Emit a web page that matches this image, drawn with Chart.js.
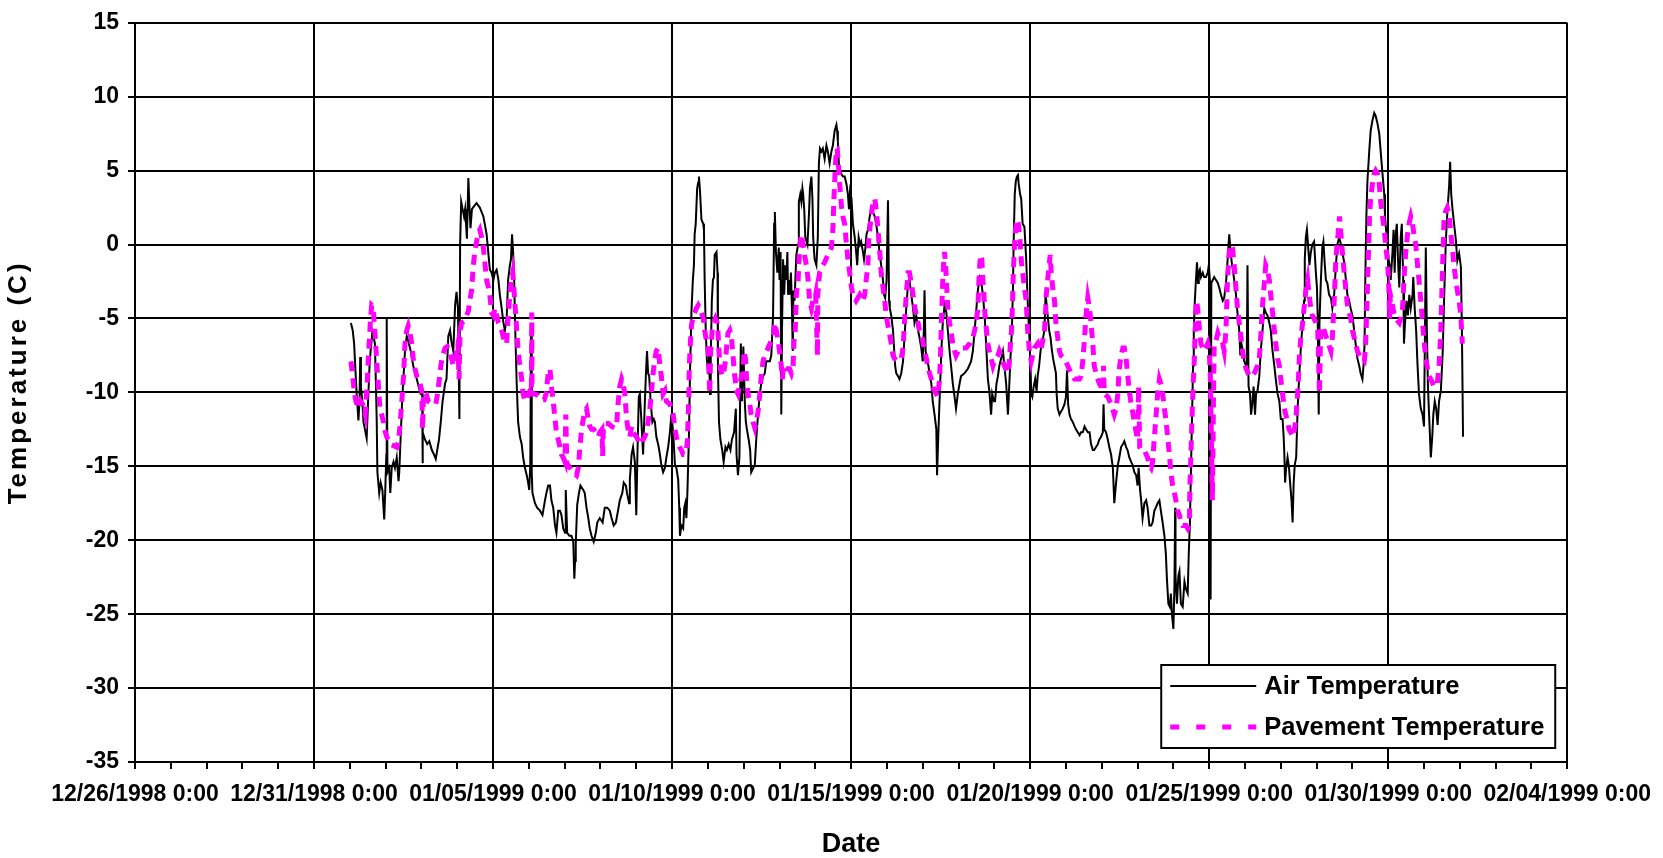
<!DOCTYPE html>
<html>
<head>
<meta charset="utf-8">
<script src="https://cdn.jsdelivr.net/npm/chart.js@4.4.0/dist/chart.umd.min.js"></script>
<style>
html,body{margin:0;padding:0;background:#fff;}
canvas{display:block;}
</style>
</head>
<body>
<canvas id="c" width="1663" height="858"></canvas>
<script>
// X axis: days since 12/26/1998 0:00 (one label every 5 days)
const xTickLabels = ["12/26/1998 0:00","12/31/1998 0:00","01/05/1999 0:00","01/10/1999 0:00","01/15/1999 0:00","01/20/1999 0:00","01/25/1999 0:00","01/30/1999 0:00","02/04/1999 0:00"];
const seriesNames = ["Air Temperature","Pavement Temperature"];
const axisTitles = {x:"Date", y:"Temperature (C)"};

// Air temperature: time (days since 12/26/1998) and value (C)
const airDays = [6.03,6.08,6.12,6.15,6.19,6.24,6.27,6.29,6.31,6.35,6.38,6.43,6.47,6.51,6.55,6.58,6.63,6.66,6.70,6.73,6.75,6.77,6.82,6.86,6.91,6.96,6.99,7.02,7.03,7.05,7.10,7.13,7.17,7.22,7.26,7.31,7.36,7.38,7.42,7.46,7.50,7.54,7.59,7.63,7.70,7.77,7.85,7.92,7.98,8.02,8.03,8.04,8.10,8.16,8.22,8.29,8.35,8.40,8.44,8.49,8.54,8.59,8.66,8.70,8.75,8.80,8.84,8.89,8.94,8.98,9.02,9.06,9.08,9.11,9.15,9.19,9.22,9.24,9.27,9.31,9.34,9.37,9.41,9.47,9.54,9.63,9.73,9.82,9.91,
9.96,10.01,10.05,10.10,10.15,10.19,10.24,10.29,10.33,10.38,10.42,10.47,10.50,10.53,10.56,10.59,10.62,10.66,10.70,10.75,10.80,10.84,10.89,10.94,10.98,11.01,11.04,11.06,11.08,11.10,11.17,11.23,11.31,11.38,11.45,11.49,11.54,11.59,11.63,11.68,11.73,11.77,11.82,11.87,11.91,11.96,12.01,12.03,12.07,12.13,12.19,12.24,12.27,12.29,12.31,12.35,12.40,12.44,12.52,12.56,12.61,12.66,12.70,12.75,12.81,12.87,12.91,12.98,13.06,13.12,13.19,13.26,13.31,13.37,13.43,13.49,13.54,13.61,13.65,13.71,13.74,13.80,13.82,13.87,13.91,13.96,14.00,14.03,14.07,14.10,14.14,14.19,14.24,14.27,14.30,14.33,14.36,14.40,14.45,14.49,14.52,14.56,14.61,14.66,14.70,14.75,
14.80,14.84,14.89,14.94,14.98,15.03,15.08,15.12,15.17,15.20,15.22,15.26,15.31,15.34,15.37,15.40,15.43,15.47,15.50,15.54,15.58,15.61,15.63,15.66,15.70,15.73,15.75,15.78,15.82,15.87,15.89,15.91,15.94,15.97,16.01,16.03,16.06,16.08,16.11,16.14,16.17,16.19,16.24,16.27,16.28,16.31,16.35,16.40,16.44,16.49,16.53,16.58,16.63,16.67,16.73,16.78,16.80,16.84,16.88,16.92,16.95,16.99,17.03,17.06,17.09,17.14,17.18,17.21,17.27,17.31,17.35,17.40,17.45,17.49,17.54,17.59,17.63,17.73,17.77,17.82,17.85,17.87,17.90,17.94,17.98,18.00,18.03,18.05,18.07,18.10,18.13,18.16,18.19,18.22,18.24,18.27,18.29,18.32,18.35,18.37,18.39,18.42,18.47,18.52,18.54,18.58,18.61,18.64,18.66,18.69,18.72,18.78,18.82,18.85,18.89,18.92,18.94,18.98,19.03,19.07,19.10,19.13,19.17,19.21,19.26,19.31,19.35,19.40,19.45,19.49,19.54,19.59,19.61,19.63,19.66,19.72,19.77,
19.82,19.87,19.91,19.94,19.97,20.01,20.05,20.10,20.14,20.17,20.21,20.25,20.28,20.33,20.36,20.40,20.43,20.47,20.52,20.56,20.61,20.66,20.70,20.75,20.80,20.84,20.89,20.92,20.95,20.99,21.03,21.06,21.08,21.12,21.17,21.20,21.23,21.26,21.31,21.35,21.40,21.45,21.49,21.54,21.59,21.63,21.68,21.73,21.77,21.82,21.87,21.91,21.96,22.00,22.03,22.05,22.08,22.12,22.16,22.20,22.24,22.28,22.33,22.38,22.40,22.44,22.48,22.52,22.56,22.61,22.66,22.70,22.75,22.80,22.84,22.89,22.93,22.98,23.03,23.07,23.17,23.26,23.35,23.40,23.45,23.49,23.54,23.59,23.63,23.68,23.73,23.77,23.82,23.86,23.91,23.94,23.99,24.02,24.06,24.10,24.14,24.19,24.24,24.28,24.33,24.38,24.41,24.45,24.49,24.52,24.54,24.57,24.60,24.63,24.66,24.68,24.72,24.75,24.79,
24.84,24.89,24.93,24.98,25.01,25.03,25.06,25.10,25.14,25.18,25.21,25.25,25.29,25.32,25.36,25.40,25.43,25.45,25.49,25.53,25.57,25.60,25.64,25.68,25.72,25.74,25.77,25.82,25.86,25.91,25.96,26.00,26.03,26.06,26.10,26.14,26.19,26.24,26.28,26.33,26.38,26.42,26.47,26.52,26.56,26.61,26.66,26.70,26.75,26.79,26.84,26.89,26.93,26.98,27.03,27.05,27.07,27.12,27.17,27.21,27.26,27.31,27.35,27.40,27.45,27.49,27.54,27.59,27.63,27.68,27.72,27.77,27.82,27.86,27.91,27.96,28.00,28.03,28.07,28.10,28.14,28.19,28.24,28.28,28.33,28.38,28.42,28.47,28.51,28.56,28.61,28.65,28.70,28.75,28.79,28.82,28.86,28.90,28.93,28.96,29.00,29.03,29.05,29.06,29.10,29.14,29.17,29.21,29.26,29.31,29.35,29.40,29.43,29.46,29.49,29.52,29.55,29.57,29.60,29.63,29.66,29.69,29.71,29.74,29.77,29.82,
29.86,29.91,29.96,29.99,30.02,30.04,30.06,30.10,30.14,30.19,30.24,30.28,30.33,30.38,30.42,30.47,30.51,30.56,30.59,30.63,30.66,30.70,30.75,30.79,30.84,30.87,30.90,30.94,30.98,31.03,31.05,31.07,31.10,31.14,31.17,31.21,31.24,31.28,31.31,31.35,31.40,31.44,31.49,31.54,31.58,31.63,31.68,31.72,31.77,31.82,31.86,31.91,31.96,32.00,32.05,32.08,32.10,32.12,32.15,32.19,32.23,32.26,32.30,32.33,32.36,32.39,32.43,32.47,32.51,32.56,32.61,32.65,32.67,32.70,32.73,32.76,32.80,32.84,32.88,32.93,32.98,33.01,33.03,33.06,33.08,33.12,33.16,33.19,33.23,33.26,33.30,33.35,33.40,33.44,33.49,33.54,33.58,33.63,33.68,33.72,33.77,33.82,33.86,33.91,33.95,34.00,34.05,34.09,34.14,34.19,34.23,34.28,34.31,34.34,34.36,34.39,34.42,34.47,34.51,34.56,34.61,34.65,34.70,34.75,34.79,34.84,34.89,34.91,34.94,34.98,35.01,35.04,35.07,35.12,35.15,35.18,35.21,35.24,35.28,35.31,35.35,35.38,35.42,35.44,35.47,35.51,35.55,35.59,35.63,35.68,35.70,35.74,35.78,35.82,35.86,35.91,35.96,36.00,36.05,36.08,36.11,36.15,36.19,36.23,36.26,36.30,36.34,36.38,36.42,36.47,36.52,36.56,36.61,36.66,36.70,36.73,36.76,36.80,36.84,36.89,36.93,36.98,37.03,37.06,37.09];
const airTemps = [-5.3,-5.8,-6.7,-8.2,-10.1,-11.9,-10.6,-7.6,-9.6,-10.6,-12.0,-12.6,-13.1,-10.6,-8.2,-7.2,-5.9,-6.2,-6.7,-9.6,-11.8,-15.4,-16.8,-16.1,-16.6,-18.6,-16.6,-14.2,-5.0,-15.4,-15.1,-16.8,-15.1,-14.7,-15.1,-14.4,-16.0,-15.4,-13.0,-10.6,-8.9,-7.2,-6.2,-6.5,-7.2,-8.2,-8.9,-9.6,-10.1,-10.1,-14.8,-12.7,-13.2,-13.5,-13.3,-13.9,-14.2,-14.5,-13.9,-13.2,-12.0,-10.6,-9.4,-9.1,-6.2,-5.8,-6.6,-7.2,-4.1,-3.2,-4.3,-11.8,0.0,2.9,2.4,1.9,2.4,1.6,0.4,4.5,2.6,1.1,2.4,2.6,2.8,2.5,1.9,0.7,-1.7,
-1.9,-2.4,-1.9,-1.7,-2.4,-3.4,-4.3,-5.3,-5.8,-5.0,-2.4,-1.4,-1.0,0.7,-0.5,-2.4,-5.8,-9.4,-12.0,-13.0,-13.5,-14.4,-15.1,-15.6,-16.1,-16.6,-14.9,-5.8,-15.4,-16.8,-17.5,-17.8,-18.0,-18.3,-17.3,-16.8,-16.3,-16.3,-17.3,-17.8,-19.0,-19.5,-18.0,-18.0,-18.3,-19.2,-19.5,-16.6,-19.5,-19.7,-19.7,-20.1,-22.6,-21.4,-20.2,-17.6,-16.8,-16.3,-16.6,-16.8,-17.8,-18.5,-19.2,-19.7,-20.1,-19.5,-18.8,-18.5,-18.8,-17.8,-17.8,-18.0,-18.5,-19.0,-18.8,-18.0,-17.3,-16.8,-16.1,-16.3,-16.8,-17.5,-15.9,-14.2,-13.7,-14.7,-18.3,-14.4,-10.3,-10.1,-11.8,-14.2,-10.6,-8.7,-7.2,-8.7,-8.9,-10.6,-12.0,-11.8,-12.0,-13.0,-13.5,-14.2,-14.9,-15.4,
-15.1,-14.4,-13.7,-12.7,-11.5,-12.7,-14.9,-15.1,-15.9,-17.8,-19.7,-19.0,-19.2,-17.8,-17.5,-18.5,-16.6,-13.0,-8.7,-4.6,-2.4,-1.4,0.7,1.4,3.8,4.2,4.6,3.6,1.7,1.4,1.0,-2.4,-5.8,-7.7,-8.7,-7.5,-10.1,-7.7,-3.8,-2.4,-2.2,-0.7,-0.5,-1.9,-8.2,-12.0,-13.2,-13.9,-14.7,-13.7,-13.9,-13.5,-13.9,-13.2,-12.7,-11.1,-14.2,-15.6,-14.4,-6.7,-10.6,-6.9,-10.6,-12.0,-12.5,-13.2,-13.9,-15.4,-15.1,-14.9,-13.2,-11.5,-10.1,-9.4,-8.9,-8.7,-7.9,-7.9,-7.5,-4.8,1.4,2.2,-0.5,-1.9,-0.2,-2.4,-0.5,-11.5,-5.8,-1.0,-3.4,-1.4,-2.4,-0.5,-3.4,-2.4,-3.4,-1.9,-4.6,-7.2,-3.1,-3.8,-0.7,0.0,2.9,3.4,2.9,3.8,3.4,2.4,0.5,0.0,1.9,3.8,4.6,3.1,0.5,-1.0,-1.4,0.5,5.5,6.5,6.3,6.5,5.8,6.7,6.3,5.5,6.3,6.7,7.7,8.1,7.7,7.0,5.3,4.8,4.6,
4.6,4.1,3.4,2.4,3.6,3.1,1.4,0.5,-0.5,-1.4,0.5,0.0,0.2,-0.5,-1.0,-0.2,0.7,1.0,1.9,2.4,2.2,1.9,1.4,0.5,-0.7,-1.4,-2.4,-3.4,-3.6,-2.4,3.0,-3.8,-4.3,-4.8,-5.8,-7.0,-8.2,-8.7,-8.9,-9.1,-8.7,-7.9,-6.3,-4.3,-2.6,-2.4,-3.4,-4.3,-5.3,-4.8,-5.8,-6.3,-7.0,-7.9,-5.8,-3.1,-7.2,-7.9,-8.2,-8.9,-9.4,-10.6,-11.5,-12.5,-15.6,-12.5,-9.9,-7.2,-5.3,-4.1,-4.6,-5.8,-7.2,-8.4,-9.4,-10.3,-11.1,-10.1,-9.4,-8.9,-8.7,-8.4,-7.9,-7.2,-5.8,-4.6,-3.1,-2.2,-2.4,-3.4,-4.8,-6.7,-9.1,-9.9,-11.5,-10.1,-10.6,-10.6,-9.4,-8.9,-8.2,-7.7,-7.2,-8.2,-9.4,-11.5,-9.9,-7.7,-5.8,-2.9,0.2,3.4,4.3,4.6,4.7,4.1,3.4,3.1,1.4,
1.2,-1.0,-3.8,-6.3,-8.2,-10.1,-10.3,-9.6,-9.1,-9.9,-8.9,-8.2,-7.2,-6.7,-6.3,-5.8,-3.4,-3.8,-4.8,-5.8,-6.3,-7.0,-7.7,-8.2,-8.7,-10.1,-11.1,-11.5,-11.3,-11.1,-10.8,-10.3,-8.5,-10.8,-11.5,-11.8,-12.0,-12.3,-12.5,-12.7,-12.9,-12.7,-12.7,-12.3,-12.5,-12.7,-12.7,-13.5,-13.9,-13.9,-13.7,-13.5,-13.2,-13.0,-12.7,-10.8,-12.5,-12.7,-13.2,-13.7,-14.2,-15.1,-17.5,-16.1,-14.9,-14.4,-13.7,-13.5,-13.3,-13.7,-13.9,-14.4,-14.7,-14.9,-15.4,-15.6,-16.3,-15.1,-16.6,-17.3,-18.5,-17.5,-17.3,-17.8,-19.0,-19.0,-18.8,-18.0,-17.8,-17.5,-17.3,-18.0,-18.8,-19.7,-20.9,-22.6,-24.3,-24.5,-23.6,-25.0,-26.0,-23.1,-17.8,-22.4,-24.3,-22.4,-22.1,-24.3,-24.5,-22.8,-23.3,-23.6,-20.9,-19.0,-15.4,-11.8,-8.2,-5.8,-3.8,-2.4,-1.2,-2.6,-1.9,-1.7,-2.2,-1.9,
-2.2,-2.2,-1.9,-1.4,-2.4,-24.0,-2.6,-2.4,-2.2,-2.4,-2.6,-2.9,-3.4,-3.8,-3.6,-2.6,-1.2,0.7,-0.2,-1.2,-1.7,-2.4,-3.4,-4.6,-5.8,-7.5,-6.7,-7.2,-7.9,-8.2,-7.7,-1.4,-9.6,-10.1,-11.5,-10.6,-9.6,-11.5,-10.1,-9.9,-8.9,-7.2,-5.8,-4.3,-4.6,-4.8,-5.3,-5.8,-7.2,-8.2,-9.1,-10.1,-10.6,-11.8,-11.8,-13.0,-14.2,-16.1,-15.1,-14.4,-15.1,-16.1,-17.3,-18.8,-16.1,-14.9,-14.4,-11.1,-9.1,-7.0,-5.3,-3.8,-1.0,0.5,1.0,0.0,-1.4,-0.5,0.0,0.2,-1.9,-2.9,-4.8,-11.5,-5.3,-2.4,-0.2,0.2,-1.4,-2.4,-2.6,-3.4,-3.6,-4.3,-3.4,-1.4,0.0,0.5,0.0,-0.5,-1.2,-2.4,-3.4,-3.8,-4.3,-4.8,-5.8,-6.7,-7.7,-8.2,-8.7,-9.1,-8.2,-6.7,-2.4,1.9,4.3,6.3,7.7,8.4,8.9,8.7,8.2,7.5,6.3,4.8,3.4,1.9,1.0,0.2,-1.0,-1.4,-2.4,-0.5,1.0,-1.9,0.7,1.4,-1.4,-2.9,0.5,1.4,-2.4,-6.7,-5.3,-3.8,-4.8,-3.4,-4.3,-3.4,-2.2,-4.3,-5.8,-8.2,-10.1,-11.1,-11.5,-12.3,-0.2,-5.8,-9.6,-12.0,-14.4,-13.0,-11.5,-10.6,-11.1,-12.2,-10.6,-9.9,-7.4,-3.8,0.3,2.5,3.9,5.6,3.4,2.3,1.4,0.3,-1.1,-0.6,-1.5,-6.1,-13.0];

// Pavement temperature: time (days since 12/26/1998) and value (C)
const pavDays = [6.03,6.08,6.13,6.17,6.24,6.30,6.36,6.43,6.45,6.49,6.52,6.55,6.57,6.61,6.65,6.68,6.71,6.75,6.80,6.84,6.89,6.94,6.98,7.03,7.08,7.12,7.22,7.31,7.36,7.40,7.45,7.50,7.54,7.59,7.63,7.68,7.73,7.77,7.82,7.87,7.96,8.01,8.03,8.06,8.13,8.19,8.26,8.33,8.40,8.45,8.50,8.54,8.59,8.66,8.72,8.80,8.84,8.89,8.94,8.98,9.02,9.05,9.08,9.12,9.19,9.26,9.31,9.35,9.40,9.45,9.49,9.54,9.59,9.63,9.68,9.73,9.77,9.82,9.87,9.91,
9.96,10.01,10.05,10.10,10.15,10.19,10.24,10.29,10.33,10.38,10.41,10.44,10.47,10.51,10.55,10.58,10.62,10.66,10.70,10.75,10.80,10.84,10.89,10.94,10.98,11.03,11.07,11.08,11.09,11.17,11.26,11.35,11.43,11.48,11.54,11.59,11.63,11.68,11.73,11.77,11.82,11.87,11.91,11.96,12.01,12.03,12.06,12.15,12.24,12.33,12.38,12.42,12.47,12.52,12.56,12.61,12.66,12.70,12.75,12.81,12.87,12.94,12.98,13.04,13.06,13.08,13.12,13.22,13.31,13.40,13.45,13.49,13.54,13.59,13.63,13.68,13.71,13.73,13.77,13.82,13.87,13.91,14.00,14.05,14.10,14.14,14.19,14.24,14.28,14.33,14.38,14.42,14.47,14.52,14.56,14.61,14.66,14.70,14.75,
14.80,14.84,14.94,14.98,15.03,15.08,15.12,15.17,15.21,15.26,15.31,15.35,15.40,15.43,15.45,15.47,15.48,15.51,15.54,15.59,15.63,15.68,15.73,15.77,15.82,15.87,15.91,15.96,16.01,16.03,16.05,16.08,16.12,16.16,16.21,16.26,16.28,16.31,16.35,16.40,16.44,16.49,16.53,16.56,16.61,16.66,16.70,16.75,16.80,16.84,16.89,16.94,16.98,17.01,17.05,17.08,17.12,17.17,17.21,17.26,17.31,17.35,17.40,17.45,17.49,17.54,17.59,17.68,17.77,17.82,17.87,17.91,17.96,18.00,18.05,18.08,18.11,18.19,18.28,18.33,18.38,18.40,18.44,18.47,18.52,18.56,18.61,18.66,18.70,18.75,18.80,18.84,18.89,18.93,18.98,19.01,19.04,19.06,19.07,19.12,19.17,19.21,19.26,19.35,19.45,19.49,19.52,19.56,19.59,19.61,19.65,19.68,19.73,19.77,
19.82,19.87,19.91,19.96,20.01,20.05,20.14,20.24,20.33,20.38,20.42,20.47,20.49,20.52,20.56,20.61,20.66,20.70,20.75,20.80,20.84,20.89,20.94,20.98,21.03,21.07,21.12,21.17,21.21,21.31,21.40,21.45,21.49,21.54,21.59,21.63,21.68,21.73,21.77,21.82,21.87,21.91,21.96,22.00,22.05,22.10,22.14,22.19,22.24,22.28,22.33,22.38,22.42,22.47,22.50,22.52,22.54,22.56,22.59,22.61,22.64,22.66,22.70,22.75,22.80,22.84,22.89,22.93,23.03,23.12,23.21,23.31,23.40,23.45,23.49,23.54,23.57,23.59,23.62,23.65,23.68,23.71,23.74,23.78,23.82,23.86,23.91,23.96,24.00,24.10,24.14,24.19,24.24,24.28,24.38,24.41,24.45,24.48,24.51,24.53,24.56,24.60,24.64,24.67,24.71,24.75,24.79,
24.84,24.89,24.93,24.98,25.03,25.07,25.12,25.21,25.26,25.31,25.35,25.40,25.43,25.45,25.49,25.53,25.56,25.59,25.63,25.68,25.72,25.77,25.82,25.86,25.96,26.05,26.14,26.24,26.38,26.42,26.47,26.52,26.56,26.61,26.66,26.70,26.75,26.79,26.84,26.89,26.93,26.98,27.03,27.05,27.07,27.17,27.26,27.35,27.40,27.45,27.47,27.50,27.54,27.59,27.63,27.68,27.72,27.77,27.82,27.86,27.91,27.96,28.00,28.03,28.06,28.10,28.19,28.24,28.28,28.33,28.38,28.42,28.47,28.51,28.56,28.61,28.65,28.70,28.75,28.79,28.84,28.89,28.93,28.98,29.03,29.07,29.12,29.17,29.21,29.26,29.35,29.40,29.45,29.46,29.49,29.52,29.55,29.59,29.62,29.64,29.68,29.73,29.77,29.82,
29.86,29.91,29.96,30.00,30.03,30.06,30.09,30.12,30.14,30.19,30.24,30.28,30.33,30.38,30.42,30.47,30.51,30.56,30.61,30.65,30.70,30.75,30.79,30.84,30.89,30.93,30.98,31.03,31.12,31.21,31.26,31.35,31.40,31.43,31.46,31.49,31.54,31.58,31.63,31.68,31.72,31.77,31.82,31.86,31.91,31.96,32.00,32.05,32.10,32.14,32.19,32.23,32.28,32.33,32.37,32.42,32.47,32.50,32.52,32.56,32.61,32.65,32.70,32.75,32.79,32.84,32.88,32.93,32.98,33.03,33.05,33.08,33.11,33.17,33.21,33.30,33.40,33.44,33.47,33.50,33.53,33.57,33.60,33.64,33.68,33.72,33.77,33.82,33.86,33.91,33.95,34.00,34.05,34.14,34.23,34.33,34.36,34.39,34.42,34.45,34.48,34.51,34.56,34.61,34.65,34.70,34.75,34.79,34.84,34.89,34.93,34.98,35.01,35.04,35.06,35.12,35.17,35.21,35.31,35.35,35.40,35.44,35.49,35.54,35.58,35.63,35.68,35.72,35.77,35.82,35.86,35.91,35.96,36.00,36.05,36.10,36.14,36.19,36.28,36.33,36.37,36.42,36.47,36.51,36.54,36.56,36.61,36.65,36.70,36.75,36.80,36.84,36.89,36.93,36.98,37.03,37.07];
const pavTemps = [-7.9,-8.9,-10.1,-10.6,-11.1,-10.6,-10.8,-11.5,-10.6,-9.1,-7.5,-6.3,-5.3,-4.1,-4.2,-5.3,-6.3,-7.9,-9.6,-11.1,-11.5,-12.0,-12.6,-13.0,-13.2,-13.5,-13.6,-13.7,-13.2,-12.3,-10.6,-8.9,-6.7,-5.8,-5.5,-6.0,-6.7,-7.7,-8.4,-8.9,-9.4,-9.9,-12.5,-10.0,-10.1,-10.6,-10.7,-10.8,-10.8,-10.1,-9.1,-8.2,-7.5,-7.0,-6.9,-7.2,-7.7,-8.2,-7.9,-7.2,-6.7,-9.1,-5.8,-5.3,-5.2,-4.8,-4.5,-3.8,-3.1,-1.4,-0.5,0.2,0.8,1.0,0.5,-0.2,-1.2,-2.4,-2.9,-3.4,
-4.6,-4.8,-4.3,-4.8,-5.3,-5.5,-5.8,-6.3,-6.7,-6.7,-5.3,-4.3,-3.4,-2.4,-1.9,-2.9,-4.3,-5.8,-7.2,-8.2,-9.1,-10.1,-10.6,-10.4,-10.1,-9.9,-10.1,-4.6,-10.1,-10.1,-10.2,-10.5,-10.5,-10.1,-8.7,-8.4,-9.6,-10.6,-11.8,-12.7,-13.2,-13.7,-14.2,-14.4,-14.7,-11.5,-14.8,-15.1,-15.4,-15.6,-15.1,-13.9,-12.5,-11.8,-11.3,-11.1,-11.8,-12.3,-12.5,-12.5,-12.7,-13.0,-12.7,-12.5,-14.3,-12.4,-12.1,-12.1,-12.3,-12.4,-12.3,-10.8,-9.6,-9.1,-9.4,-10.1,-11.1,-11.8,-12.5,-13.0,-12.3,-12.7,-13.0,-13.2,-13.5,-13.5,-13.2,-13.0,-12.7,-12.0,-11.1,-10.1,-8.7,-7.7,-7.2,-7.0,-8.2,-8.9,-10.1,
-9.9,-10.6,-10.8,-11.1,-11.5,-12.5,-13.0,-13.5,-13.7,-13.9,-14.2,-14.2,-13.9,-13.2,-11.5,-10.1,-8.2,-6.7,-5.5,-4.8,-4.6,-4.3,-4.1,-4.3,-4.6,-5.0,-5.8,-6.5,-7.2,-8.7,-10.1,-7.2,-5.8,-5.3,-5.0,-5.3,-5.8,-7.2,-8.4,-8.9,-8.7,-7.9,-6.7,-6.0,-5.8,-6.3,-7.5,-8.9,-9.9,-10.1,-9.4,-8.9,-8.7,-7.2,-7.7,-9.1,-10.1,-10.8,-11.5,-12.0,-12.4,-12.0,-11.3,-10.1,-8.9,-7.9,-7.5,-7.0,-6.5,-6.3,-5.3,-5.8,-6.5,-7.2,-8.2,-9.1,-8.2,-8.4,-8.4,-8.7,-8.2,-6.7,-5.8,-3.4,-2.4,-0.2,0.7,0.0,-0.7,-1.4,-2.4,-3.8,-4.3,-3.8,-3.8,-3.4,-5.8,-7.5,-3.4,-1.9,-1.7,-1.4,-1.2,-0.7,-0.2,1.0,3.1,5.3,6.5,6.5,5.3,4.1,2.6,1.9,
1.4,0.0,-1.0,-1.9,-2.9,-3.4,-3.8,-3.4,-3.8,-3.4,-2.4,-1.4,0.2,1.0,1.9,2.9,3.1,2.4,1.0,-0.5,-1.9,-2.9,-3.8,-4.8,-5.5,-6.0,-6.7,-7.5,-7.7,-7.9,-7.7,-7.0,-5.3,-3.4,-1.9,-1.9,-2.6,-3.4,-4.1,-4.8,-5.3,-5.8,-6.0,-6.5,-7.2,-7.7,-8.2,-8.7,-9.1,-9.6,-9.9,-10.1,-10.3,-9.1,-7.2,-5.3,-3.8,-2.4,-1.0,-0.5,-1.4,-2.4,-4.3,-5.3,-6.0,-6.7,-7.2,-7.5,-7.0,-7.0,-7.0,-6.7,-6.3,-5.8,-5.3,-4.3,-2.4,-1.4,-0.7,-1.0,-2.4,-3.4,-4.8,-5.8,-6.7,-7.2,-7.7,-8.2,-7.9,-7.5,-7.2,-7.5,-7.9,-8.2,-8.7,-8.2,-6.7,-5.8,-3.8,-1.9,-0.2,1.2,1.7,1.4,0.5,-1.0,-1.9,
-2.9,-3.8,-5.8,-7.2,-7.9,-7.5,-7.0,-6.7,-7.2,-7.0,-6.5,-5.8,-4.6,-3.4,-2.4,-1.4,-0.7,-1.9,-2.9,-3.8,-5.3,-6.3,-7.2,-7.5,-7.7,-8.2,-8.7,-9.1,-9.1,-8.9,-7.9,-6.3,-4.8,-3.6,-4.3,-5.3,-6.7,-8.2,-8.7,-9.1,-9.4,-9.6,-9.9,-8.2,-10.1,-10.3,-10.8,-11.5,-11.1,-10.1,-9.1,-8.2,-7.5,-7.0,-7.0,-7.7,-8.7,-9.9,-10.8,-11.3,-12.0,-12.7,-13.2,-9.6,-13.7,-13.9,-13.9,-14.2,-14.4,-14.9,-15.1,-14.7,-13.0,-11.8,-10.1,-9.1,-9.4,-10.1,-11.1,-11.8,-13.0,-14.2,-15.4,-16.3,-16.8,-17.3,-18.0,-18.3,-18.8,-19.0,-19.0,-19.2,-18.8,-16.6,-14.2,-11.8,-9.6,-7.5,-5.3,-3.8,-4.3,-5.8,-6.7,-7.0,
-7.2,-7.0,-6.7,-7.2,-8.7,-13.0,-17.3,-10.6,-6.7,-6.5,-6.0,-6.3,-6.5,-6.7,-7.2,-5.8,-2.4,-0.5,0.0,-0.2,-1.4,-3.1,-4.3,-5.3,-6.3,-7.2,-7.9,-8.4,-8.9,-8.9,-8.7,-8.2,-7.7,-6.7,-5.3,-4.1,-2.6,-1.4,-1.7,-2.4,-3.4,-4.6,-5.8,-6.7,-7.7,-8.2,-9.1,-10.1,-11.1,-11.5,-12.0,-12.5,-12.7,-13.0,-12.7,-11.8,-10.1,-8.7,-7.5,-6.3,-5.3,-4.3,-3.1,-2.4,-3.4,-4.3,-4.8,-5.0,-5.3,-5.8,-7.2,-10.1,-6.3,-5.5,-5.8,-6.5,-7.2,-6.3,-4.8,-3.4,-1.4,0.0,0.7,1.9,0.7,-0.5,-1.9,-3.1,-4.1,-4.6,-5.0,-5.8,-6.3,-7.2,-7.7,-7.9,-7.2,-5.3,-2.9,-0.5,1.9,3.1,4.1,4.8,5.0,4.8,4.1,2.9,1.9,1.0,0.0,-1.2,-2.4,-5.0,-3.4,-4.1,-4.8,-5.0,-5.3,-5.0,-4.3,-2.4,-0.5,0.7,1.4,1.9,1.4,0.7,0.0,-1.4,-2.4,-3.8,-5.3,-6.5,-7.7,-8.4,-8.9,-9.1,-9.6,-9.6,-9.4,-8.2,-5.8,-2.2,0.2,1.9,2.3,2.5,2.1,0.7,-0.4,-1.5,-2.4,-3.1,-3.8,-4.9,-6.7];

const FONT = "'Liberation Sans', Arial, Helvetica, sans-serif";

// Framed legend drawn inside the plot area (bottom right), like the original
const boxLegend = {
  id: 'boxLegend',
  afterDraw(chart, args, o) {
    const {ctx, chartArea: a} = chart;
    const left = a.right - o.rightGap - o.width;
    const top = a.bottom - o.bottomGap - o.height;
    ctx.save();
    ctx.fillStyle = '#ffffff';
    ctx.fillRect(left, top, o.width, o.height);
    ctx.lineWidth = 2;
    ctx.strokeStyle = '#000000';
    ctx.setLineDash([]);
    ctx.strokeRect(left, top, o.width, o.height);
    ctx.font = 'bold ' + o.fontSize + 'px ' + FONT;
    ctx.textAlign = 'left';
    ctx.textBaseline = 'middle';
    chart.data.datasets.forEach((ds, i) => {
      const y = top + o.firstRow + i * o.rowGap;
      ctx.beginPath();
      ctx.strokeStyle = ds.borderColor;
      ctx.lineWidth = ds.borderWidth;
      ctx.setLineDash(ds.borderDash ? o.sampleDash : []);
      ctx.moveTo(left + o.lineStart, y);
      ctx.lineTo(left + o.lineEnd, y);
      ctx.stroke();
      ctx.setLineDash([]);
      ctx.fillStyle = '#000000';
      ctx.fillText(ds.label, left + o.textStart, y + 1);
    });
    ctx.restore();
  }
};

new Chart(document.getElementById('c'), {
  type: 'line',
  data: {
    datasets: [
      {
        label: seriesNames[0],
        data: airDays.map((d, i) => ({x: d, y: airTemps[i]})),
        borderColor: '#000000',
        borderWidth: 2,
        pointRadius: 0,
        tension: 0,
        fill: false,
        order: 2
      },
      {
        label: seriesNames[1],
        data: pavDays.map((d, i) => ({x: d, y: pavTemps[i]})),
        borderColor: '#FF00FF',
        borderWidth: 5,
        borderDash: [10, 7],
        borderCapStyle: 'butt',
        pointRadius: 0,
        tension: 0,
        fill: false,
        order: 1
      }
    ]
  },
  options: {
    responsive: false,
    animation: false,
    events: [],
    layout: {padding: {left: 0, top: 21, right: 94, bottom: 0}},
    plugins: {
      legend: {display: false},
      tooltip: {enabled: false},
      boxLegend: {width: 394, height: 83, rightGap: 12, bottomGap: 14, firstRow: 21, rowGap: 41,
                  lineStart: 9, lineEnd: 95, textStart: 103, fontSize: 25.5, sampleDash: [9, 17]}
    },
    scales: {
      x: {
        type: 'linear',
        min: 0,
        max: 40,
        afterFit: s => { s.height = 96; },
        border: {color: '#000', width: 2},
        grid: {
          color: c => (c.tick && c.tick.value % 5 === 0) ? '#000000' : 'rgba(0,0,0,0)',
          lineWidth: 2,
          drawTicks: true,
          tickLength: 7,
          tickColor: '#000000',
          tickWidth: 2
        },
        ticks: {
          stepSize: 1,
          autoSkip: false,
          maxRotation: 0,
          minRotation: 0,
          padding: 12,
          color: '#000',
          font: {family: FONT, size: 23, weight: 'bold'},
          callback: v => (v % 5 === 0 ? xTickLabels[v / 5] : '')
        },
        title: {display: true, text: axisTitles.x, color: '#000',
                font: {family: FONT, size: 27, weight: 'bold', lineHeight: 1}, padding: {top: 0, bottom: 0}}
      },
      y: {
        min: -35,
        max: 15,
        afterFit: s => {
          s.width = 135;
          if (!s._titleStyled) {
            // the original title text is drawn a little wider and sits slightly above centre
            const drawTitle = s.drawTitle;
            s.drawTitle = function () {
              const ctx = this.ctx;
              ctx.save();
              ctx.letterSpacing = '3px';
              ctx.translate(0, -10);
              drawTitle.call(this);
              ctx.restore();
            };
            s._titleStyled = true;
          }
        },
        border: {color: '#000', width: 2},
        grid: {color: '#000000', lineWidth: 2, drawTicks: true, tickLength: 7, tickColor: '#000000', tickWidth: 2},
        ticks: {
          stepSize: 5,
          padding: 9,
          color: '#000',
          font: {family: FONT, size: 23, weight: 'bold'}
        },
        title: {display: true, text: axisTitles.y, color: '#000',
                font: {family: FONT, size: 26, weight: 'bold'}, padding: {top: 3, bottom: 0}}
      }
    }
  },
  plugins: [boxLegend]
});
</script>
</body>
</html>
